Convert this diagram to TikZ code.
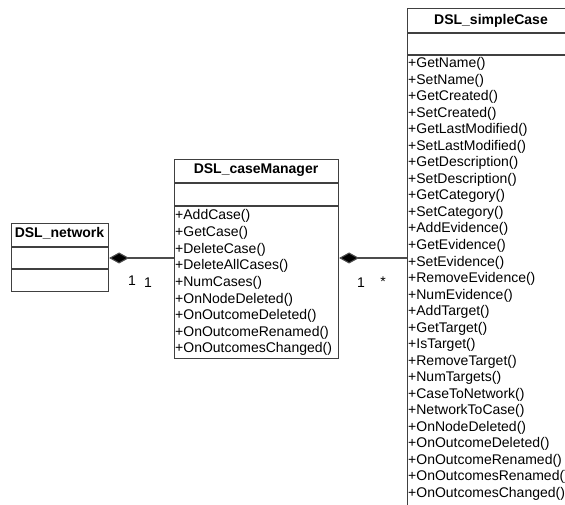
\documentclass[tikz,border=0pt]{standalone}
\usepackage{fontspec}
\setmainfont{Liberation Sans}
\usetikzlibrary{arrows.meta}
\begin{document}
\begin{tikzpicture}[x=1pt,y=-1pt,
  umlbox/.style={draw=black!75, line width=1.1pt, inner sep=0pt, anchor=north west},
  sep/.style={draw=black!75, line width=1.1pt},
  title/.style={font=\fontsize{14}{16.5}\selectfont\bfseries, anchor=base, inner sep=0pt},
  member/.style={font=\fontsize{14}{16.5}\selectfont, anchor=base west, inner sep=0pt},
  mult/.style={font=\fontsize{14}{16.5}\selectfont, inner sep=0pt},
  compose/.style={draw=black!70, line width=1.1pt,
    {Diamond[length=20pt,width=11pt,fill=black]}-}]
\useasboundingbox (0,0) rectangle (565,505);
\clip (0,0) rectangle (565,505);

% DSL_network
\node[umlbox, minimum width=97pt, minimum height=68pt] (net) at (11,223) {};
\draw[sep] (11,247) -- (108,247);
\draw[sep] (11,269) -- (108,269);
\node[title] (netT) at (59.5,238) {DSL\_network};

% DSL_caseManager
\node[umlbox, minimum width=164pt, minimum height=199pt] (mgr) at (174,159) {};
\draw[sep] (174,183) -- (338,183);
\draw[sep] (174,206) -- (338,206);
\node[title] (mgrT) at (256,174) {DSL\_caseManager};
\foreach \m [count=\i from 0] in {AddCase,GetCase,DeleteCase,DeleteAllCases,NumCases,
    OnNodeDeleted,OnOutcomeDeleted,OnOutcomeRenamed,OnOutcomesChanged}
  \node[member] (mgrM\i) at (175,220+16.6*\i) {+\m()};

% DSL_simpleCase
\node[umlbox, minimum width=168pt, minimum height=520pt] (sc) at (407,8) {};
\draw[sep] (407,33) -- (575,33);
\draw[sep] (407,55) -- (575,55);
\node[title] (scT) at (491,25) {DSL\_simpleCase};
\foreach \m [count=\i from 0] in {GetName,SetName,GetCreated,SetCreated,GetLastModified,
    SetLastModified,GetDescription,SetDescription,GetCategory,SetCategory,AddEvidence,
    GetEvidence,SetEvidence,RemoveEvidence,NumEvidence,AddTarget,GetTarget,IsTarget,
    RemoveTarget,NumTargets,CaseToNetwork,NetworkToCase,OnNodeDeleted,OnOutcomeDeleted,
    OnOutcomeRenamed,OnOutcomesRenamed,OnOutcomesChanged}
  \node[member] (scM\i) at (408,68+16.5*\i) {+\m()};

% compositions
\draw[compose] (net.east |- 0,258) -- (mgr.west |- 0,258);
\draw[compose] (mgr.east |- 0,258) -- (sc.west |- 0,258);

% multiplicities
\node[mult] (m1) at (132,281) {1};
\node[mult] (m2) at (148,283) {1};
\node[mult] (m3) at (361,283) {1};
\node[mult] (m4) at (383,282) {*};
\end{tikzpicture}
\end{document}
